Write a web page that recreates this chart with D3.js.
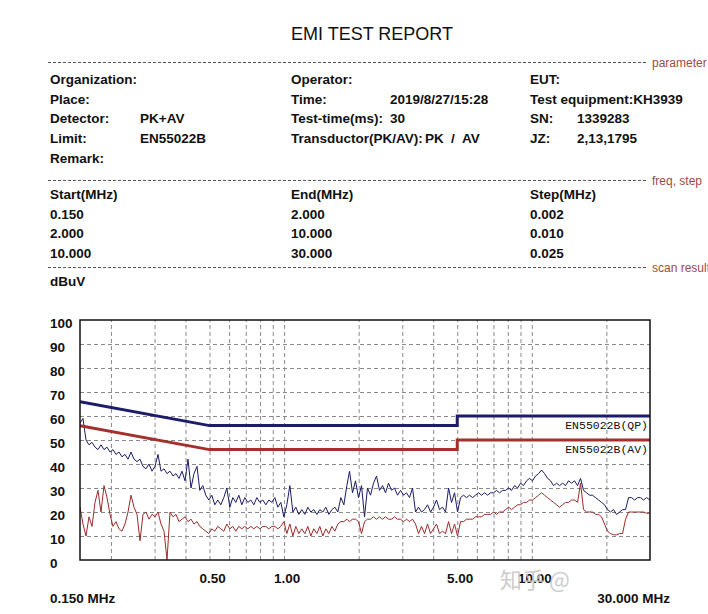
<html>
<head>
<meta charset="utf8">
<title>EMI TEST REPORT</title>
<style>
body { margin:0; background:white; overflow:hidden; }
svg text { font-family: "Liberation Sans", Arial, sans-serif; }
</style>
<script src="https://cdn.jsdelivr.net/npm/d3@7"></script>
</head>
<body>
<div id="chart"></div>
<script>

// header fields
var infoLabels1 = ["Organization:", "Place:", "Detector:", "Limit:", "Remark:"];
var infoValues1 = ["", "", "PK+AV", "EN55022B", ""];
var infoLabels2 = ["Operator:", "Time:", "Test-time(ms):", "Transductor(PK/AV):", ""];
var infoValues2 = ["", "2019/8/27/15:28", "30", "", ""];
var infoLabels3 = ["EUT:", "Test equipment:KH3939", "SN:", "JZ:", ""];
var infoValues3 = ["", "", "1339283", "2,13,1795", ""];

var sweepHead = ["Start(MHz)", "End(MHz)", "Step(MHz)"];
var sweepStart = ["0.150", "2.000", "10.000"];
var sweepEnd = ["2.000", "10.000", "30.000"];
var sweepStep = ["0.002", "0.010", "0.025"];

// limit lines EN55022B
var limitFreq = [0.15, 0.5, 5, 5, 30];
var qpLimit = [66, 56, 56, 60, 60];
var avLimit = [56, 46, 46, 50, 50];

// scan frequencies (MHz)
var freqs = [
 0.1500, 0.1542, 0.1586, 0.1631, 0.1677, 0.1725, 0.1773, 0.1823, 0.1875, 0.1928,
 0.1983, 0.2039, 0.2096, 0.2155, 0.2216, 0.2279, 0.2344, 0.2410, 0.2478, 0.2548,
 0.2620, 0.2694, 0.2770, 0.2849, 0.2929, 0.3012, 0.3097, 0.3185, 0.3275, 0.3368,
 0.3463, 0.3561, 0.3661, 0.3765, 0.3871, 0.3981, 0.4093, 0.4209, 0.4328, 0.4451,
 0.4568, 0.4697, 0.4830, 0.4967, 0.5107, 0.5252, 0.5400, 0.5553, 0.5710, 0.5872,
 0.6038, 0.6209, 0.6384, 0.6565, 0.6751, 0.6942, 0.7138, 0.7340, 0.7548, 0.7761,
 0.7981, 0.8206, 0.8438, 0.8677, 0.8923, 0.9175, 0.9435, 0.9702, 0.9976, 1.026,
 1.055, 1.085, 1.115, 1.147, 1.179, 1.213, 1.247, 1.282, 1.318, 1.356,
 1.394, 1.433, 1.474, 1.516, 1.559, 1.603, 1.648, 1.695, 1.743, 1.792,
 1.837, 1.889, 1.942, 1.997, 2.054, 2.112, 2.171, 2.233, 2.296, 2.361,
 2.428, 2.497, 2.567, 2.640, 2.715, 2.791, 2.870, 2.952, 3.035, 3.121,
 3.209, 3.300, 3.393, 3.489, 3.588, 3.689, 3.794, 3.901, 4.011, 4.125,
 4.241, 4.361, 4.485, 4.612, 4.742, 4.876, 5.014, 5.156, 5.302, 5.452,
 5.606, 5.765, 5.928, 6.095, 6.268, 6.445, 6.627, 6.815, 7.008, 7.206,
 7.410, 7.62, 7.83, 8.06, 8.28, 8.52, 8.76, 9.01, 9.26, 9.52,
 9.79, 10.07, 10.35, 10.65, 10.95, 11.26, 11.58, 11.90, 12.24, 12.59,
 12.94, 13.31, 13.68, 14.07, 14.47, 14.88, 15.30, 15.73, 16.18, 16.63,
 17.11, 17.59, 18.09, 18.60, 19.12, 19.66, 20.22, 20.79, 21.38, 21.98,
 22.60, 23.24, 23.90, 24.58, 25.27, 25.99, 26.72, 27.48, 28.25, 29.05,
 30.00
];

// peak trace (dBuV)
var pkValues = [
 57, 59, 50, 48, 49, 47, 46, 48, 46, 47,
 45, 46, 44, 45, 43, 44, 42, 45, 42, 41,
 42, 39, 38, 40, 37, 39, 44, 37, 38, 36,
 37, 35, 36, 34, 37, 33, 42, 30, 36, 39,
 29, 31, 27, 25, 27, 23, 25, 23, 26, 30,
 22, 26, 24, 27, 23, 26, 24, 25, 23, 26,
 24, 25, 23, 25, 24, 26, 22, 24, 18, 23,
 31, 20, 22, 19, 21, 19, 22, 20, 21, 19,
 21, 20, 22, 19, 21, 22, 20, 26, 23, 31,
 37, 28, 33, 26, 31, 18, 30, 27, 32, 35,
 29, 31, 28, 32, 29, 30, 27, 29, 27, 28,
 26, 30, 20, 22, 20, 21, 23, 20, 22, 25,
 21, 22, 20, 30, 24, 28, 20, 26, 27, 26,
 27, 26, 27, 28, 27, 28, 27, 28, 28, 29,
 28, 29, 29, 30, 29, 31, 30, 32, 31, 33,
 34, 33, 35, 36, 37.5, 36, 34, 33, 31, 32,
 31, 32, 31, 33, 32, 33, 31, 34, 29, 28,
 27, 27, 26, 25, 24, 23, 21, 20, 21, 19,
 20, 21, 21, 26, 26, 25, 26, 26, 25, 26,
 25
];

// average trace (dBuV)
var avValues = [
 22, 15, 10, 18, 14, 24, 29, 20, 31, 26,
 19, 14, 16, 13, 12, 15, 20, 27, 22, 19,
 8, 19, 20, 17, 19, 18, 20, 15, 12, 0,
 20, 18, 19, 16, 17, 18, 16, 17, 15, 16,
 14, 13, 12, 11, 13, 12, 14, 13, 12, 15,
 13, 14, 12, 14, 13, 14, 13, 14, 13, 14,
 13, 14, 14, 13, 14, 14, 13, 14, 16, 11,
 15, 10, 14, 11, 13, 11, 14, 10, 13, 11,
 14, 10, 13, 11, 14, 12, 15, 16, 16, 17,
 16, 17, 17, 16, 11, 16, 17, 17, 18, 17,
 18, 17, 18, 17, 17, 18, 17, 17, 16, 17,
 16, 17, 15, 11, 14, 11, 15, 11, 13, 15,
 11, 12, 11, 16, 11, 15, 10, 16, 16, 17,
 17, 17, 18, 18, 18, 19, 19, 19, 20, 19,
 20, 20, 21, 22, 21, 22, 23, 23, 24, 24,
 25, 25, 26, 27, 28, 27, 26, 25, 24, 23,
 22, 23, 24, 24, 25, 25, 24, 32, 21, 20,
 20, 20, 19, 19, 18, 15, 12, 11, 10.5, 10.5,
 11, 11, 17, 20, 20, 20, 20, 20, 20, 19.5,
 19.5
];

var yTicks = [0, 10, 20, 30, 40, 50, 60, 70, 80, 90, 100];
var xTicks = [0.5, 1, 5, 10];
var xTickLabels = ["0.50", "1.00", "5.00", "10.00"];
var xGrid = [0.2, 0.3, 0.4, 0.5, 0.6, 0.7, 0.8, 0.9, 1, 2, 3, 4, 5, 6, 7, 8, 9, 10, 20];
var yGrid = [10, 20, 30, 40, 50, 60, 70, 80, 90];

var width = 708;
var height = 614;
var plotLeft = 80, plotRight = 650, plotTop = 320, plotBottom = 560;

var svg = d3.select("#chart").append("svg")
    .attr("width", width)
    .attr("height", height);

svg.append("rect").attr("width", width).attr("height", height).attr("fill", "white");

// title
svg.append("text")
    .attr("x", 372).attr("y", 40)
    .attr("text-anchor", "middle")
    .attr("font-size", 18)
    .attr("fill", "#111")
    .text("EMI TEST REPORT");

// dashed separators + section names
var sections = [[62.5, "parameter"], [180.5, "freq, step"], [267.5, "scan result"]];
sections.forEach(function(s) {
  svg.append("line")
      .attr("x1", 48).attr("x2", 648)
      .attr("y1", s[0]).attr("y2", s[0])
      .attr("stroke", "#555").attr("stroke-width", 1)
      .attr("stroke-dasharray", "3,2");
  svg.append("text")
      .attr("x", 652).attr("y", s[0] + 4)
      .attr("font-size", 12)
      .attr("fill", "#a04a48")
      .text(s[1]);
});

function boldText(x, y, t) {
  svg.append("text")
      .attr("x", x).attr("y", y)
      .attr("font-size", 13.5)
      .attr("font-weight", "bold")
      .attr("fill", "#111")
      .text(t);
}

// info block
for (var i = 0; i < 5; i++) {
  var yy = 84 + i * 19.7;
  boldText(50, yy, infoLabels1[i]);
  boldText(140, yy, infoValues1[i]);
  boldText(291, yy, infoLabels2[i]);
  boldText(390, yy, infoValues2[i]);
  boldText(530, yy, infoLabels3[i]);
  boldText(577, yy, infoValues3[i]);
}
boldText(425, 84 + 3 * 19.7, "PK");
boldText(451, 84 + 3 * 19.7, "/");
boldText(462, 84 + 3 * 19.7, "AV");

// sweep table
boldText(50, 199, sweepHead[0]);
boldText(291, 199, sweepHead[1]);
boldText(530, 199, sweepHead[2]);
for (var j = 0; j < 3; j++) {
  var ry = 218.5 + j * 19.6;
  boldText(50, ry, sweepStart[j]);
  boldText(291, ry, sweepEnd[j]);
  boldText(530, ry, sweepStep[j]);
}

boldText(50, 286, "dBuV");

// scales
var x = d3.scaleLog().domain([0.15, 30]).range([plotLeft, plotRight]);
var y = d3.scaleLinear().domain([0, 100]).range([plotBottom, plotTop]);

// grid
var gx = svg.append("g")
    .attr("transform", "translate(0," + plotBottom + ")")
    .call(d3.axisBottom(x).tickValues(xGrid).tickSize(-(plotBottom - plotTop)).tickFormat(""));
var gy = svg.append("g")
    .attr("transform", "translate(" + plotLeft + ",0)")
    .call(d3.axisLeft(y).tickValues(yGrid).tickSize(-(plotRight - plotLeft)).tickFormat(""));
[gx, gy].forEach(function(g) {
  g.select(".domain").remove();
  g.selectAll(".tick line")
      .attr("stroke", "#8a8a8a")
      .attr("stroke-width", 1)
      .attr("stroke-dasharray", "4,3");
});

// y labels
svg.selectAll(".ylab").data(yTicks).enter().append("text")
    .attr("class", "ylab")
    .attr("x", 50)
    .attr("y", function(d) { return y(d) + 7.5; })
    .attr("font-size", 13.5)
    .attr("font-weight", "bold")
    .attr("fill", "#111")
    .text(function(d) { return d; });

// x labels
svg.selectAll(".xlab").data(xTicks).enter().append("text")
    .attr("class", "xlab")
    .attr("x", function(d) { return x(d) + 3; })
    .attr("y", 583)
    .attr("text-anchor", "middle")
    .attr("font-size", 13.5)
    .attr("font-weight", "bold")
    .attr("fill", "#111")
    .text(function(d, k) { return xTickLabels[k]; });

boldText(50, 603, "0.150 MHz");
svg.append("text")
    .attr("x", 670).attr("y", 603)
    .attr("text-anchor", "end")
    .attr("font-size", 13.5)
    .attr("font-weight", "bold")
    .attr("fill", "#111")
    .text("30.000 MHz");

// clip for traces
svg.append("clipPath").attr("id", "plotclip")
  .append("rect")
    .attr("x", plotLeft).attr("y", plotTop)
    .attr("width", plotRight - plotLeft).attr("height", plotBottom - plotTop);

var plot = svg.append("g").attr("clip-path", "url(#plotclip)");

var line = d3.line()
    .x(function(d) { return x(d[0]); })
    .y(function(d) { return y(d[1]); });

var avData = freqs.map(function(f, k) { return [f, avValues[k]]; });
var pkData = freqs.map(function(f, k) { return [f, pkValues[k]]; });

plot.append("path").datum(avData)
    .attr("d", line)
    .attr("fill", "none")
    .attr("stroke", "#9c2b2b")
    .attr("stroke-width", 1);

plot.append("path").datum(pkData)
    .attr("d", line)
    .attr("fill", "none")
    .attr("stroke", "#1b1b66")
    .attr("stroke-width", 1);

// limit lines
plot.append("path").datum(limitFreq.map(function(f, k) { return [f, qpLimit[k]]; }))
    .attr("d", line)
    .attr("fill", "none")
    .attr("stroke", "#1c1c6a")
    .attr("stroke-width", 3);

plot.append("path").datum(limitFreq.map(function(f, k) { return [f, avLimit[k]]; }))
    .attr("d", line)
    .attr("fill", "none")
    .attr("stroke", "#a3302c")
    .attr("stroke-width", 3);

svg.append("text")
    .attr("x", 648).attr("y", 429)
    .attr("text-anchor", "end")
    .style("font-family", "'Liberation Mono', 'Courier New', monospace")
    .attr("font-size", 11.5)
    .attr("fill", "#111")
    .text("EN55022B(QP)");

svg.append("text")
    .attr("x", 648).attr("y", 452.5)
    .attr("text-anchor", "end")
    .style("font-family", "'Liberation Mono', 'Courier New', monospace")
    .attr("font-size", 11.5)
    .attr("fill", "#111")
    .text("EN55022B(AV)");

// frame
svg.append("rect")
    .attr("x", plotLeft).attr("y", plotTop)
    .attr("width", plotRight - plotLeft).attr("height", plotBottom - plotTop)
    .attr("fill", "none")
    .attr("stroke", "#111")
    .attr("stroke-width", 1.5);

// watermark
svg.append("text")
    .attr("x", 500).attr("y", 588)
    .style("font-family", "'Noto Sans CJK SC', sans-serif")
    .attr("font-size", 22)
    .attr("fill", "#c4c4c4")
    .attr("opacity", 0.85)
    .text("知乎 @");

</script>
</body>
</html>
